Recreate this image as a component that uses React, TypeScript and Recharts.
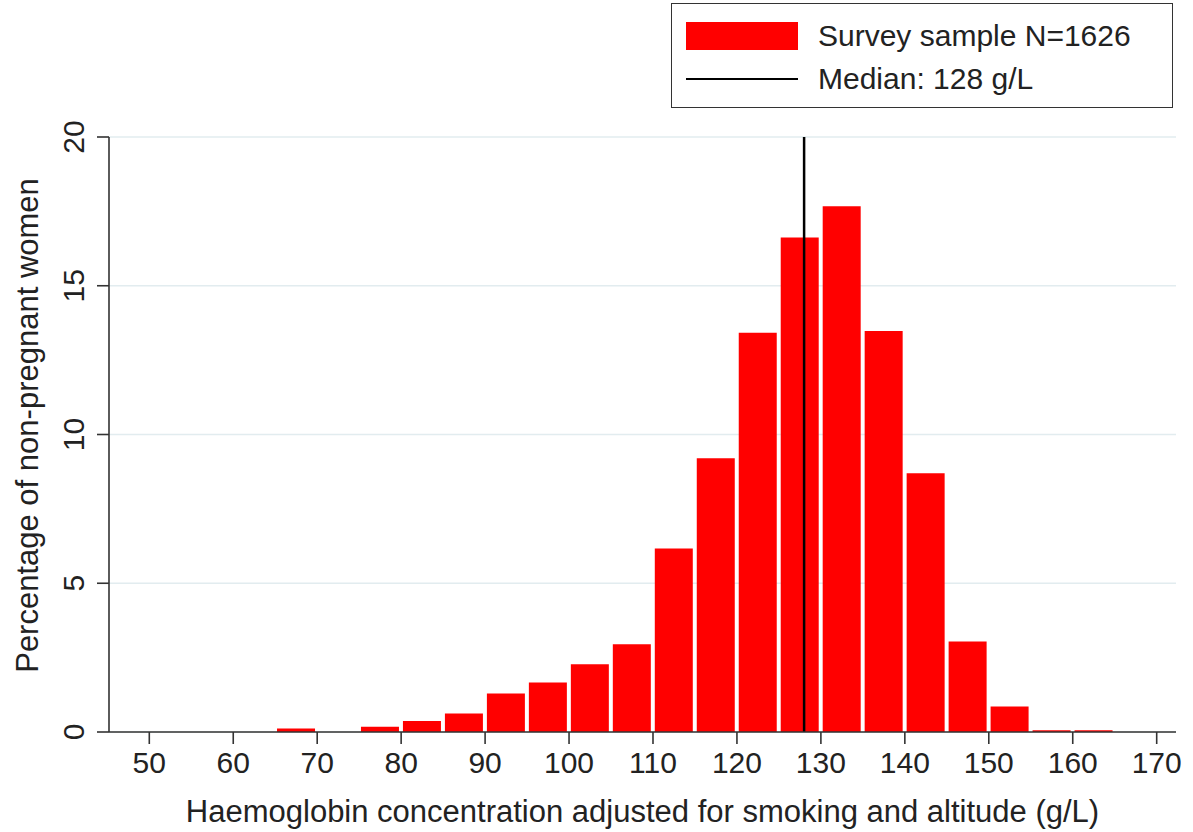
import React from 'react';
import {
  ComposedChart, Bar, XAxis, YAxis, CartesianGrid, ReferenceLine, Legend
} from 'recharts';

// 5 g/L bins, value = % of women in the bin
const binMids = [
  47.5, 52.5, 57.5, 62.5, 67.5, 72.5, 77.5, 82.5, 87.5, 92.5, 97.5, 102.5,
  107.5, 112.5, 117.5, 122.5, 127.5, 132.5, 137.5, 142.5, 147.5, 152.5, 157.5, 162.5,
];
const percents = [
  0, 0, 0, 0, 0.12, 0, 0.18, 0.37, 0.62, 1.29, 1.66, 2.28,
  2.95, 6.17, 9.2, 13.42, 16.62, 17.67, 13.48, 8.7, 3.04, 0.86, 0.06, 0.06,
];
const xTicks = [50, 60, 70, 80, 90, 100, 110, 120, 130, 140, 150, 160, 170];
const yTicks = [0, 5, 10, 15, 20];
const median = 128;
const sampleSize = 1626;

const seriesLabel = `Survey sample N=${sampleSize}`;
const medianLabel = `Median: ${median} g/L`;
const xTitle = 'Haemoglobin concentration adjusted for smoking and altitude (g/L)';
const yTitle = 'Percentage of non-pregnant women';

const data = binMids.map((mid, i) => ({ mid, pct: percents[i] }));

const FONT = '"Liberation Sans", Arial, Helvetica, sans-serif';
const INK = '#222';
const AXIS = '#333';

const YTick = ({ x, y, payload }: any) => (
  <text
    x={x}
    y={y}
    transform={`rotate(-90 ${x} ${y})`}
    textAnchor="middle"
    fontSize={30}
    fontFamily={FONT}
    fill={INK}
  >
    {payload.value}
  </text>
);

const YTitle = ({ viewBox }: any) => {
  const x = viewBox.x + 38;
  const y = viewBox.y + viewBox.height / 2 - 9;
  return (
    <text
      x={x}
      y={y}
      transform={`rotate(-90 ${x} ${y})`}
      textAnchor="middle"
      fontSize={31}
      fontFamily={FONT}
      fill={INK}
    >
      {yTitle}
    </text>
  );
};

const LegendBox = () => (
  <div
    style={{
      position: 'relative', width: 502, height: 105, boxSizing: 'border-box',
      border: `1.5px solid ${AXIS}`, background: '#fff', fontFamily: FONT,
      fontSize: 30, color: INK, lineHeight: 1,
    }}
  >
    <div style={{ position: 'absolute', left: 14, top: 14, height: 36, display: 'flex', alignItems: 'center' }}>
      <div style={{ width: 112, height: 28, background: '#ff0000' }} />
      <span style={{ marginLeft: 20, whiteSpace: 'nowrap' }}>{seriesLabel}</span>
    </div>
    <div style={{ position: 'absolute', left: 14, top: 57, height: 36, display: 'flex', alignItems: 'center' }}>
      <div style={{ width: 112, height: 2, background: '#000' }} />
      <span style={{ marginLeft: 20, whiteSpace: 'nowrap' }}>{medianLabel}</span>
    </div>
  </div>
);

export default function App() {
  return (
    <div style={{ position: 'absolute', left: 0, top: 0, width: 1193, height: 832, background: '#fff' }}>
      <ComposedChart
        width={1193}
        height={832}
        data={data}
        margin={{ top: 137, right: 17, bottom: 0, left: 0 }}
        barCategoryGap={1.8}
      >
        <CartesianGrid vertical={false} stroke="#e2ecef" strokeWidth={1.5} />
        <XAxis
          type="number"
          dataKey="mid"
          domain={[45.2, 172.3]}
          ticks={xTicks}
          allowDataOverflow
          height={100}
          tickSize={12}
          tickMargin={8}
          stroke={AXIS}
          strokeWidth={1.6}
          tick={{ fontSize: 30, fill: INK, fontFamily: FONT }}
          label={{ value: xTitle, position: 'insideBottom', offset: 10, fontSize: 31, fill: INK, fontFamily: FONT }}
        />
        <YAxis
          type="number"
          domain={[0, 20]}
          ticks={yTicks}
          width={109}
          tickSize={12}
          tickMargin={13}
          stroke={AXIS}
          strokeWidth={1.6}
          tick={<YTick />}
          label={<YTitle />}
        />
        <Bar dataKey="pct" fill="#ff0000" isAnimationActive={false} />
        <ReferenceLine x={median} stroke="#000" strokeWidth={2.5} />
        <Legend
          layout="horizontal"
          verticalAlign="middle"
          align="center"
          wrapperStyle={{ top: 3, left: 671, width: 502, height: 105 }}
          content={<LegendBox />}
        />
      </ComposedChart>
    </div>
  );
}
